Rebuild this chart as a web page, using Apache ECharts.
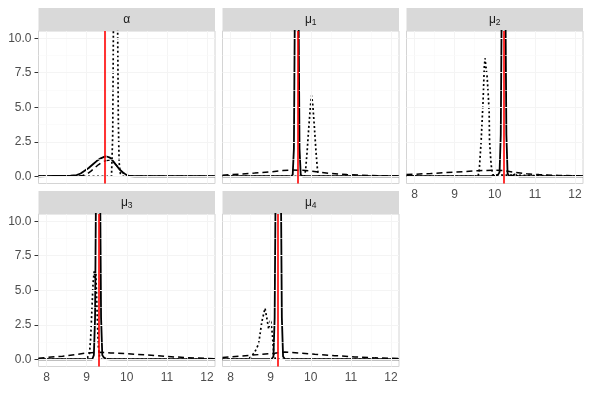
<!DOCTYPE html>
<html>
<head>
<meta charset="utf-8">
<script src="https://cdn.jsdelivr.net/npm/echarts@6/dist/echarts.min.js"></script>
<style>html,body{margin:0;padding:0;background:#fff}#c{width:591px;height:393px}</style>
</head>
<body>
<div id="c"></div>
<script>
// ---- data ----
const xTicks = [8, 9, 10, 11, 12];
const yTicks = [0, 2.5, 5, 7.5, 10];
const stripSymbols = ['α', 'μ', 'μ', 'μ', 'μ'];
const stripSubs = ['', '1', '2', '3', '4'];
const trueValues = [9.46, 9.67, 10.23, 9.30, 9.17];

const alphaSolid = [[7.8,0],[8.0,0.01],[8.2,0.02],[8.4,0.03],[8.6,0.04],[8.75,0.08],[8.85,0.2],[8.95,0.4],[9.05,0.6],[9.15,0.85],[9.25,1.1],[9.35,1.3],[9.45,1.42],[9.5,1.43],[9.58,1.35],[9.66,1.1],[9.74,0.8],[9.82,0.5],[9.9,0.3],[9.98,0.12],[10.06,0.02],[10.2,0],[12.2,0]];
const alphaDashed = [[7.8,0],[8.8,0],[8.9,0.05],[9.0,0.15],[9.1,0.35],[9.2,0.6],[9.3,0.85],[9.4,1.05],[9.5,1.15],[9.58,1.18],[9.66,1.05],[9.74,0.8],[9.82,0.5],[9.9,0.25],[9.98,0.08],[10.05,0.01],[10.2,0],[12.2,0]];
const alphaDotted = [[7.8,0],[9.62,0],[9.65,3],[9.67,12],[9.72,20],[9.77,12],[9.79,4],[9.81,1],[9.84,0.2],[9.9,0],[12.2,0]];

const mu1Solid = [[7.8,0],[9.5,0],[9.55,0.1],[9.58,2],[9.61,15],[9.65,25],[9.69,15],[9.72,2],[9.75,0.1],[9.8,0],[12.2,0]];
const mu1Dashed = [[7.8,0.08],[8.2,0.15],[8.6,0.23],[9.0,0.32],[9.3,0.41],[9.5,0.45],[9.8,0.44],[10.0,0.38],[10.2,0.3],[10.5,0.2],[10.9,0.12],[11.5,0.05],[12.2,0.01]];
const mu1Dotted = [[7.8,0],[9.84,0],[9.87,0.4],[9.91,1.8],[9.95,3.5],[9.99,5.0],[10.02,5.85],[10.05,5.2],[10.09,3.6],[10.13,1.8],[10.17,0.4],[10.21,0],[12.2,0]];

const mu2Solid = [[7.8,0.03],[8.2,0.01],[9.9,0],[10.0,0.05],[10.08,0.1],[10.12,0.3],[10.15,3],[10.18,15],[10.22,25],[10.26,15],[10.29,3],[10.32,0.2],[10.36,0.02],[10.45,0.05],[10.5,0.15],[10.55,0.05],[10.6,0],[12.2,0]];
const mu2Dashed = [[7.8,0.12],[8.4,0.2],[9.0,0.3],[9.6,0.4],[10.0,0.45],[10.2,0.42],[10.5,0.28],[10.8,0.18],[11.1,0.12],[11.6,0.06],[12.2,0.02]];
const mu2Dotted = [[7.8,0],[9.58,0],[9.61,0.3],[9.66,2.5],[9.71,5.5],[9.74,8.0],[9.76,8.55],[9.78,7.9],[9.81,7.2],[9.84,5.8],[9.86,4.7],[9.87,2.6],[9.9,1.2],[9.92,0.6],[9.95,0.1],[9.99,0],[12.2,0]];

const mu3Solid = [[7.8,0],[9.14,0],[9.18,0.3],[9.21,3],[9.24,15],[9.29,25],[9.33,15],[9.36,3],[9.39,0.3],[9.43,0.12],[9.5,0.02],[9.6,0],[12.2,0]];
const mu3Dashed = [[7.8,0.08],[8.4,0.22],[9.0,0.45],[9.3,0.5],[9.6,0.46],[10.0,0.4],[10.5,0.31],[11.0,0.2],[11.5,0.12],[12.2,0.04]];
const mu3Dotted = [[7.8,0],[9.0,0],[9.04,0.1],[9.07,0.4],[9.1,1.5],[9.13,3.5],[9.16,5.5],[9.19,6.4],[9.21,5.9],[9.23,6.2],[9.26,3.5],[9.29,1],[9.32,0.2],[9.36,0],[12.2,0]];

const mu4Solid = [[7.8,0],[9.02,0],[9.07,0.2],[9.1,3],[9.13,15],[9.19,25],[9.25,15],[9.28,3],[9.31,0.2],[9.36,0],[12.2,0]];
const mu4Dashed = [[7.8,0.12],[8.5,0.29],[9.1,0.43],[9.35,0.52],[9.7,0.45],[10.1,0.36],[10.6,0.26],[11.1,0.17],[11.6,0.1],[12.2,0.05]];
const mu4Dotted = [[7.8,0],[8.4,0],[8.5,0.15],[8.6,0.5],[8.7,1.1],[8.78,2.7],[8.86,3.7],[8.91,2.9],[8.95,2.2],[9.0,2.85],[9.04,1.9],[9.08,0.3],[9.12,0],[12.2,0]];

const panelSolid = [alphaSolid, mu1Solid, mu2Solid, mu3Solid, mu4Solid];
const panelDashed = [alphaDashed, mu1Dashed, mu2Dashed, mu3Dashed, mu4Dashed];
const panelDotted = [alphaDotted, mu1Dotted, mu2Dotted, mu3Dotted, mu4Dotted];

// ---- layout ----
const gridPos = [[38.5,31],[222.5,31],[406.5,31],[38.5,214],[222.5,214]];
const W = 176.5, H = 152.5, STRIP = 23;
const showX = [false,false,true,true,true];
const showY = [true,false,false,true,false];
const FONT = 'Liberation Sans, Arial, sans-serif';

const grids = [], xAxes = [], yAxes = [], series = [], graphics = [];
const xMinor = [8.5, 9.5, 10.5, 11.5];
const yMinor = [1.25, 3.75, 6.25, 8.75];

gridPos.forEach((p, i) => {
  grids.push({left: p[0], top: p[1], width: W, height: H, show: true, backgroundColor: '#fff', borderColor: '#D4D4D4', borderWidth: 1});
  xAxes.push({
    gridIndex: i, type: 'value', min: 7.8, max: 12.2,
    axisLine: {show: false}, splitLine: {show: false},
    axisTick: {show: showX[i], customValues: xTicks, length: 4, lineStyle: {color: '#333', width: 1}},
    axisLabel: {show: showX[i], customValues: xTicks, margin: 5, fontSize: 12, color: '#4D4D4D', fontFamily: FONT, formatter: v => String(v)}
  });
  yAxes.push({
    gridIndex: i, type: 'value', min: -0.525, max: 10.525,
    axisLine: {show: false}, splitLine: {show: false},
    axisTick: {show: showY[i], customValues: yTicks, length: 4, lineStyle: {color: '#333', width: 1}},
    axisLabel: {show: showY[i], customValues: yTicks, margin: 7, fontSize: 12, color: '#4D4D4D', fontFamily: FONT, formatter: v => v.toFixed(1)}
  });
  // grid lines
  const gl = [];
  xTicks.forEach(v => gl.push({xAxis: v, lineStyle: {color: '#F4F4F4', width: 1, type: 'solid'}}));
  xMinor.forEach(v => gl.push({xAxis: v, lineStyle: {color: '#F9F9F9', width: 0.6, type: 'solid'}}));
  yTicks.forEach(v => gl.push({yAxis: v, lineStyle: {color: '#F4F4F4', width: 1, type: 'solid'}}));
  yMinor.forEach(v => gl.push({yAxis: v, lineStyle: {color: '#F9F9F9', width: 0.6, type: 'solid'}}));
  series.push({type: 'line', xAxisIndex: i, yAxisIndex: i, data: [], z: 1, silent: true,
    markLine: {silent: true, symbol: 'none', label: {show: false}, animation: false, data: gl}});
  const common = {type: 'line', xAxisIndex: i, yAxisIndex: i, showSymbol: false, symbol: 'none', clip: true, silent: true, animation: false};
  series.push(Object.assign({}, common, {data: panelDashed[i], z: 3, lineStyle: {color: '#000', width: 1.5, type: [6, 4]}}));
  series.push(Object.assign({}, common, {data: panelDotted[i], z: 3, lineStyle: {color: '#000', width: 1.7, type: [2, 2.5]}}));
  series.push(Object.assign({}, common, {data: panelSolid[i], z: 4, lineStyle: {color: '#000', width: 1.8}}));
  series.push({type: 'line', xAxisIndex: i, yAxisIndex: i, data: [], z: 6, silent: true,
    markLine: {silent: true, symbol: 'none', label: {show: false}, animation: false,
      data: [{xAxis: trueValues[i], lineStyle: {color: '#FF0000', width: 1.6, type: 'solid'}}]}});
  // strip
  graphics.push({type: 'rect', shape: {x: p[0], y: p[1] - STRIP, width: W, height: STRIP}, style: {fill: '#D9D9D9'}, silent: true});
  const txt = stripSubs[i] ? '{a|' + stripSymbols[i] + '}{s|' + stripSubs[i] + '}' : '{a|' + stripSymbols[i] + '}';
  graphics.push({type: 'text', x: p[0] + W / 2, y: p[1] - STRIP / 2, silent: true,
    style: {text: txt, align: 'center', verticalAlign: 'middle',
      rich: {a: {fontSize: 12, fill: '#1A1A1A', fontFamily: FONT}, s: {fontSize: 8.5, fill: '#1A1A1A', fontFamily: FONT, padding: [6, 0, 0, 0]}}}});
});

const chart = echarts.init(document.getElementById('c'), null, {renderer: 'canvas'});
chart.setOption({
  animation: false,
  backgroundColor: '#fff',
  grid: grids, xAxis: xAxes, yAxis: yAxes, series: series, graphic: graphics
});
</script>
</body>
</html>
